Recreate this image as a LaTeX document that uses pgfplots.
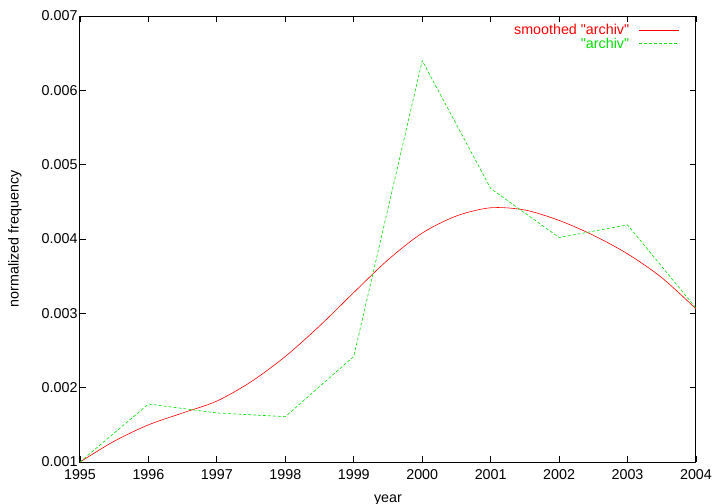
\documentclass[border=0pt]{standalone}
\usepackage{fontspec}
\setmainfont{Liberation Sans}[Ligatures=TeXOff]
\usepackage{pgfplots}
\pgfplotsset{compat=1.18}
\definecolor{gpred}{RGB}{255,0,0}
\definecolor{gpgreen}{RGB}{0,225,0}
\begin{document}
\begin{tikzpicture}[font=\fontsize{14.3bp}{16bp}\selectfont]
\path[use as bounding box] (-80bp,-42bp) rectangle (640bp,462bp);
\begin{axis}[
  scale only axis, width=616bp, height=446bp,
  xmin=1995, xmax=2004, ymin=0.001, ymax=0.007,
  xtick={1995,1996,1997,1998,1999,2000,2001,2002,2003,2004},
  ytick={0.001,0.002,0.003,0.004,0.005,0.006,0.007},
  scaled y ticks=false,
  /pgf/number format/assume math mode=true,
  yticklabel style={/pgf/number format/fixed, /pgf/number format/fixed zerofill, /pgf/number format/precision=3, xshift=1bp},
  xticklabel style={/pgf/number format/1000 sep={}, yshift=-4bp},
  tick align=inside, major tick length=6bp,
  axis line style={line width=1bp, black},
  tick style={line width=0.8bp, black},
  xlabel={year}, ylabel={normalized frequency},
  xlabel style={at={(axis description cs:0.5,-0.085)}, anchor=center},
  ylabel style={at={(axis description cs:-0.1055,0.5)}, anchor=center},
  legend style={draw=none, fill=none, at={(axis description cs:0.974,0.986)}, anchor=north east, inner sep=0pt, row sep=-2.5bp},
  legend cell align=right,
  legend plot pos=right,
  legend image code/.code={\path (0bp,0bp); \draw[#1] (8bp,0bp) -- (48bp,0bp);},
]
\addplot[gpred, line width=0.6bp, smooth] coordinates {
(1995,0.00100) (1995.5,0.00128) (1996,0.00150) (1996.5,0.00166) (1997,0.00182)
(1997.5,0.00208) (1998,0.00242) (1998.5,0.00283) (1999,0.00328) (1999.5,0.00372)
(2000,0.00408) (2000.5,0.00431) (2001,0.00442) (2001.5,0.00439) (2002,0.00425)
(2002.5,0.00405) (2003,0.00380) (2003.5,0.00348) (2004,0.00306)
};
\addlegendentry{\textcolor{gpred}{smoothed "archiv"}}
\addplot[gpgreen, line width=0.6bp, dash pattern=on 3bp off 2bp] coordinates {
(1995,0.00100) (1996,0.00178) (1997,0.00166) (1998,0.00161) (1999,0.00242)
(2000,0.00640) (2001,0.00468) (2002,0.00402) (2003,0.00419) (2004,0.00307)
};
\addlegendentry{\textcolor{gpgreen}{"archiv"}}
\end{axis}
\end{tikzpicture}
\end{document}
